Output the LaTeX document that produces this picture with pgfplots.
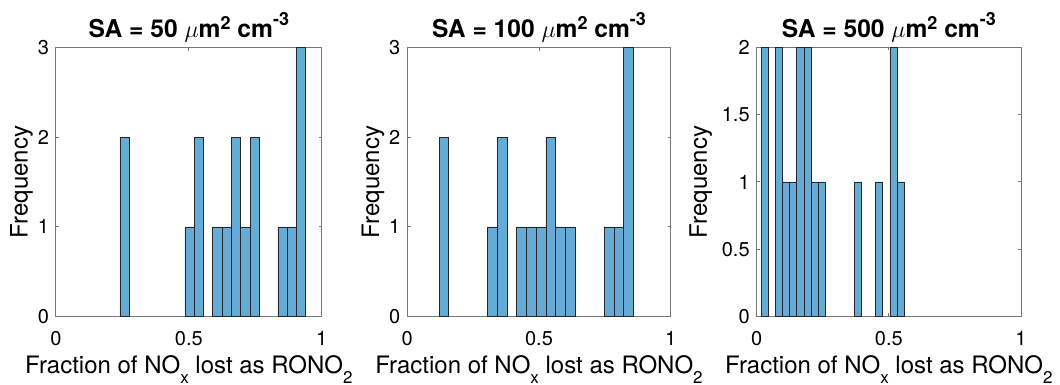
\documentclass[border=0pt]{standalone}
\usepackage{fontspec}
\setmainfont{TeX Gyre Heros}
\usepackage{pgfplots}
\pgfplotsset{compat=1.18}
\definecolor{barblue}{RGB}{102,170,215}
\definecolor{axgray}{RGB}{120,120,120}
\newcommand{\lsub}[1]{\raisebox{-5.2pt}{\fontsize{8.5}{9}\selectfont #1}}
\newcommand{\tsup}[2]{\raisebox{#1}{\fontsize{9}{10}\selectfont\bfseries #2}}
\newcommand{\ttl}[1]{SA = #1 $\mu$m\tsup{3.8pt}{2} cm\tsup{5.8pt}{-3}}
\pgfplotsset{
  hist/.style={
    scale only axis, height=134.7pt,
    xmin=0, xmax=1, ymin=0,
    xtick={0,0.5,1},
    tick align=inside, major tick length=1.6pt,
    axis line style={axgray, line width=0.5pt},
    every tick/.style={axgray, line width=0.5pt},
    /pgf/number format/assume math mode=true,
    ticklabel style={font=\fontsize{10}{12}\selectfont, black},
    xticklabel style={anchor=base, yshift=-14.6pt},
    every axis x label/.style={at={(axis description cs:0.5,0)}, anchor=base, yshift=-28.3pt, font=\fontsize{12}{14}\selectfont},
    every axis title/.style={at={(axis description cs:0.5,1)}, anchor=base, yshift=5pt, font=\fontsize{12.3}{14}\selectfont\bfseries},
    xlabel={Fraction of NO\lsub{x} lost as RONO\lsub{2}},
    ylabel={Frequency},
  },
  histbar/.style={ybar, bar shift=0pt, fill=barblue, draw=black!85, line width=0.4pt},
}
\begin{document}
\begin{tikzpicture}
\useasboundingbox (-28pt,-34.15pt) rectangle (502pt,158.35pt);
% Panel 1
\begin{axis}[hist, at={(0pt,0pt)}, anchor=south west, width=132.85pt,
  ymax=3, ytick={0,1,2,3},
  every axis y label/.style={at={([xshift=-17.2pt]axis description cs:0,0.5)}, rotate=90, anchor=center, font=\fontsize{12}{14}\selectfont},
  title={\ttl{50}}]
\addplot[histbar, bar width=0.035] coordinates {
(0.258,2) (0.503,1) (0.538,2) (0.608,1) (0.643,1) (0.678,2)
(0.713,1) (0.748,2) (0.853,1) (0.888,1) (0.923,3)};
\end{axis}
% Panel 2
\begin{axis}[hist, at={(175.65pt,0pt)}, anchor=south west, width=131.7pt,
  ymax=3, ytick={0,1,2,3},
  every axis y label/.style={at={([xshift=-17.2pt]axis description cs:0,0.5)}, rotate=90, anchor=center, font=\fontsize{12}{14}\selectfont},
  title={\ttl{100}}]
\addplot[histbar, bar width=0.0369] coordinates {
(0.1388,2) (0.3233,1) (0.3602,2) (0.4340,1) (0.4709,1) (0.5078,1)
(0.5447,2) (0.5816,1) (0.6185,1) (0.7661,1) (0.8030,1) (0.8399,3)};
\end{axis}
% Panel 3
\begin{axis}[hist, at={(350.35pt,0pt)}, anchor=south west, width=132.15pt,
  ymax=2, ytick={0,0.5,1,1.5,2},
  every axis y label/.style={at={([xshift=-28pt]axis description cs:0,0.5)}, rotate=90, anchor=center, font=\fontsize{12}{14}\selectfont},
  title={\ttl{500}}]
\addplot[histbar, bar width=0.0271] coordinates {
(0.0300,2) (0.0842,2) (0.1113,1) (0.1384,1) (0.1655,2) (0.1926,2)
(0.2197,1) (0.2468,1) (0.3823,1) (0.4636,1) (0.5178,2) (0.5449,1)};
\end{axis}
\end{tikzpicture}
\end{document}
